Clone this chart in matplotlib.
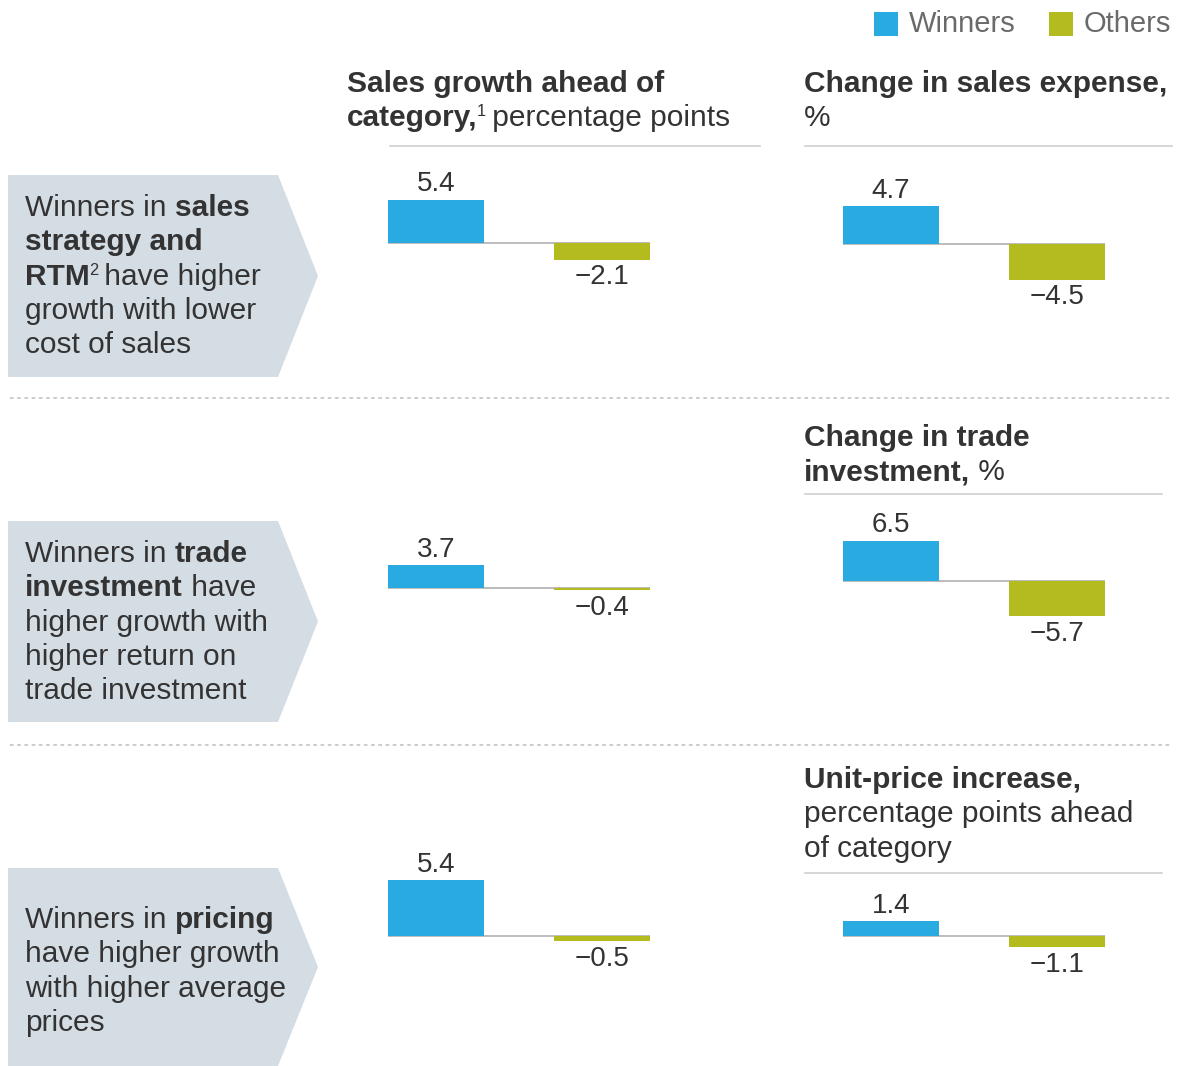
import matplotlib
matplotlib.use("Agg")
import matplotlib.pyplot as plt
from matplotlib.patches import Polygon, Rectangle
from matplotlib.lines import Line2D

plt.rcParams['font.family'] = ['Liberation Sans', 'DejaVu Sans']

W, H = 1184, 1066
fig = plt.figure(figsize=(W / 100, H / 100), dpi=100)
renderer = fig.canvas.get_renderer()

# ---------------- data ----------------
series = ["Winners", "Others"]
colors = ["#29abe2", "#b3bb1f"]
sales_growth = [5.4, -2.1]
sales_expense = [4.7, -4.5]
trade_growth = [3.7, -0.4]
trade_investment = [6.5, -5.7]
pricing_growth = [5.4, -0.5]
unit_price = [1.4, -1.1]

TXT = "#333333"
ARROW = "#d4dce4"
FS = 21.5


def fx(x):
    return x / W


def fy(y):
    return 1 - y / H


def rich(x, y, lines, size=FS, dy=34.3, color=TXT):
    """lines: list of lists of (text, style) with style in 'b', 'r', 'sup'"""
    for i, segs in enumerate(lines):
        cx = x
        base = y + i * dy
        for txt, style in segs:
            if style == 'sup':
                t = fig.text(fx(cx - 1), fy(base - 10), txt, fontsize=size * 0.55,
                             color=color, va='baseline', ha='left')
                bb = t.get_window_extent(renderer=renderer)
                cx += bb.width - 3
            else:
                t = fig.text(fx(cx), fy(base), txt, fontsize=size,
                             fontweight='bold' if style == 'b' else 'normal',
                             color=color, va='baseline', ha='left')
                bb = t.get_window_extent(renderer=renderer)
                cx += bb.width


# ---------------- arrows ----------------
for top, bot in [(175, 377), (521, 722), (868, 1066)]:
    mid = (top + bot) / 2
    pts = [(8, top), (278, top), (318, mid), (278, bot), (8, bot)]
    fig.patches.append(Polygon([(fx(a), fy(b)) for a, b in pts], closed=True,
                               transform=fig.transFigure, facecolor=ARROW,
                               edgecolor='none', zorder=0))

rich(25, 216, [[("Winners in ", 'r'), ("sales", 'b')],
               [("strategy and", 'b')],
               [("RTM", 'b'), ("2", 'sup'), (" have higher", 'r')],
               [("growth with lower", 'r')],
               [("cost of sales", 'r')]])
rich(25, 562, [[("Winners in ", 'r'), ("trade", 'b')],
               [("investment", 'b'), (" have", 'r')],
               [("higher growth with", 'r')],
               [("higher return on", 'r')],
               [("trade investment", 'r')]])
rich(25, 928, [[("Winners in ", 'r'), ("pricing", 'b')],
               [("have higher growth", 'r')],
               [("with higher average", 'r')],
               [("prices", 'r')]])

# ---------------- headers ----------------
rich(347, 92, [[("Sales growth ahead of", 'b')],
               [("category,", 'b'), ("1", 'sup'), (" percentage points", 'r')]])
rich(804, 92, [[("Change in sales expense,", 'b')],
               [("%", 'r')]])
rich(804, 446, [[("Change in trade", 'b')],
                [("investment,", 'b'), (" %", 'r')]])
rich(804, 788, [[("Unit-price increase,", 'b')],
                [("percentage points ahead", 'r')],
                [("of category", 'r')]])

# header rules
for x0, x1, y in [(390, 760, 146), (805, 1172, 146), (805, 1162, 494), (805, 1162, 873)]:
    fig.lines.append(Line2D([fx(x0), fx(x1)], [fy(y), fy(y)], transform=fig.transFigure,
                            color="#cfcfcf", lw=1.2))

# dotted separators
for y in [398, 745]:
    fig.lines.append(Line2D([fx(10), fx(1172)], [fy(y), fy(y)], transform=fig.transFigure,
                            color="#c8c8c8", lw=1.3, ls=(0, (2, 2))))

# ---------------- legend ----------------
for (x0, lab), c in zip([(874, series[0]), (1049, series[1])], colors):
    fig.patches.append(Rectangle((fx(x0), fy(36)), 24 / W, 24 / H, transform=fig.transFigure,
                                 facecolor=c, edgecolor='none'))
    fig.text(fx(x0 + 35), fy(32), lab, fontsize=21, color="#6a6a6a", va='baseline', ha='left')

# ---------------- bar panels ----------------
panels = [
    (388, 243, 8.0, sales_growth),
    (843, 244, 8.0, sales_expense),
    (388, 588, 6.2, trade_growth),
    (843, 581, 6.2, trade_investment),
    (388, 936, 10.4, pricing_growth),
    (843, 936, 10.4, unit_price),
]
spacing = 166.0
bw = 96.0
for xleft, zero, scale, vals in panels:
    width_px = spacing + bw
    half_h = 120
    ax = fig.add_axes([fx(xleft), fy(zero + half_h), width_px / W, 2 * half_h / H])
    ax.set_xlim(-bw / spacing / 2, 1 + bw / spacing / 2)
    ax.set_ylim(-half_h / scale, half_h / scale)
    ax.axis('off')
    ax.axhline(0, color="#b0b0b0", lw=1.2, zorder=1)
    ax.bar(range(len(vals)), vals, width=bw / spacing, color=colors, zorder=2)
    for i, v in enumerate(vals):
        lab = f"{v:.1f}".replace("-", "\u2212")
        if v >= 0:
            ax.annotate(lab, (i, v), xytext=(0, 6), textcoords='offset points',
                        ha='center', va='baseline', fontsize=20, color=TXT)
        else:
            ax.annotate(lab, (i, v), xytext=(0, -17.5), textcoords='offset points',
                        ha='center', va='baseline', fontsize=20, color=TXT)

fig.savefig("out.png", dpi=100)
